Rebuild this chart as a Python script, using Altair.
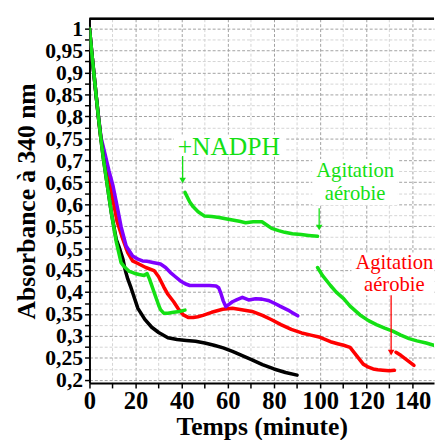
import altair as alt
import pandas as pd

# ---------------- data ----------------
black_t = [0, 1, 2, 3, 4, 5, 6, 7.4, 9.5, 11.6, 13, 14.5, 15.5, 16.6, 18, 21, 24, 27, 30, 34, 38, 42, 46, 50, 54, 58,
           62, 66, 70, 75, 80, 85, 90]
black_v = [1.0, 0.945, 0.893, 0.842, 0.793, 0.747, 0.705, 0.655, 0.58, 0.52, 0.5, 0.475, 0.45, 0.43, 0.41, 0.363,
           0.338, 0.32, 0.308, 0.296, 0.292, 0.29, 0.288, 0.284, 0.279, 0.273, 0.265, 0.256, 0.247, 0.235, 0.225,
           0.217, 0.211]

green1_t = [0, 1, 2, 3, 4, 5, 6, 7.4, 9.5, 11.6, 13.7, 15.2, 17.3, 19.4, 21.5, 23.7, 25, 26, 28, 30, 30.8, 32.2, 34,
            36.5, 39, 41.4]
green1_v = [1.0, 0.945, 0.893, 0.842, 0.793, 0.747, 0.705, 0.655, 0.58, 0.515, 0.467, 0.457, 0.447, 0.443, 0.44,
            0.438, 0.442, 0.43, 0.40, 0.37, 0.36, 0.352, 0.352, 0.354, 0.356, 0.359]
green2_t = [41.4, 43.5, 45, 47.1, 49.9, 53, 56.3, 59, 62, 65, 67.7, 71, 74.8, 77, 79, 82, 84.7, 88, 91.8, 95, 98.9]
green2_v = [0.627, 0.605, 0.594, 0.583, 0.573, 0.572, 0.570, 0.567, 0.564, 0.561, 0.558, 0.560, 0.560, 0.552, 0.545,
            0.540, 0.536, 0.533, 0.531, 0.529, 0.527]
green3_t = [98.9, 101, 104.5, 107, 110.2, 113, 117.3, 121, 124.4, 128, 131.5, 135, 138.6, 142, 146, 150]
green3_v = [0.456, 0.438, 0.415, 0.40, 0.385, 0.368, 0.348, 0.335, 0.326, 0.318, 0.311, 0.302, 0.294, 0.289, 0.284,
            0.278]

red1_t = [0, 1, 2, 3, 4, 5, 6.5, 8, 10, 12, 14.5, 16.6, 18.7, 21, 24.4, 28, 30, 32.2, 34, 36.5, 38.5, 40.7, 43, 45,
          47, 49.2, 53, 57.7, 62, 66, 70.5, 75, 79, 83, 87.5, 92, 96, 100, 104.5, 108, 110.2, 113, 115.9, 118.7, 121,
          123, 125, 127.2, 130, 132.2]
red1_v = [1.0, 0.945, 0.893, 0.842, 0.793, 0.748, 0.71, 0.67, 0.615, 0.56, 0.52, 0.49, 0.471, 0.465, 0.456, 0.449,
          0.435, 0.412, 0.395, 0.378, 0.362, 0.348, 0.342, 0.342, 0.344, 0.347, 0.354, 0.361, 0.363, 0.36, 0.356,
          0.347, 0.337, 0.326, 0.315, 0.307, 0.302, 0.297, 0.287, 0.282, 0.279, 0.274, 0.255, 0.236, 0.229, 0.225,
          0.223, 0.222, 0.221, 0.222]
red2_t = [132.9, 135, 137, 139, 140.7]
red2_v = [0.263, 0.256, 0.248, 0.24, 0.233]

purple_t = [0, 1, 2, 3, 4, 5, 6.7, 8.5, 10.2, 12, 13.7, 15.9, 18.7, 21, 23, 25, 28, 30.8, 33, 35, 37, 39.3, 41.5,
            43.5, 46, 49.2, 52, 54.9, 56, 57, 58, 59.1, 60.5, 62, 64, 66.3, 69, 72, 74.8, 77.5, 80.4, 83, 86.1, 88,
            90.3]
purple_v = [1.0, 0.945, 0.893, 0.842, 0.795, 0.752, 0.715, 0.675, 0.642, 0.595, 0.549, 0.505, 0.482, 0.475, 0.471,
            0.47, 0.467, 0.464, 0.456, 0.445, 0.436, 0.426, 0.419, 0.415, 0.415, 0.415, 0.415, 0.414, 0.41, 0.397,
            0.38, 0.367, 0.372, 0.378, 0.383, 0.388, 0.382, 0.385, 0.384, 0.381, 0.374, 0.367, 0.359, 0.353, 0.346]

# annotations (data coordinates)
ann_text = ["+NADPH", "Agitation", "aérobie", "Agitation", "aérobie"]
ann_t = [60.4, 115.2, 115.2, 132.2, 132.2]
ann_v = [0.713, 0.661, 0.609, 0.4525, 0.402]
ann_col = ["g", "g", "g", "r", "r"]
ann_size = [26, 21, 21, 21, 21]

box_t1 = [36.6, 96.6, 113.6]
box_t2 = [84.7, 133.6, 150]
box_v1 = [0.709, 0.598, 0.393]
box_v2 = [0.759, 0.703, 0.49]

arrow_t = [40.4, 99.6, 130.8]
arrow_v1 = [0.71, 0.591, 0.393]
arrow_v2 = [0.647, 0.54, 0.255]
arrow_col = ["g", "g", "r"]

x_tick_values = list(range(0, 150, 10))
y_tick_values = [round(0.2 + 0.025 * i, 3) for i in range(33)]

GREEN = "#14e014"
RED = "#ff0000"
PURPLE = "#7f00ff"
BLACK = "#000000"
FONT = "Liberation Serif"

W, H = 351, 371
XDOM = [0, 149.4]
YDOM = [0.193, 1.022]

xs = alt.Scale(domain=XDOM, nice=False, zero=False)
ys = alt.Scale(domain=YDOM, nice=False, zero=False)

y_major = "abs(datum.value*20 - round(datum.value*20)) < 0.001"

x_axis = alt.Axis(
    values=x_tick_values,
    labelExpr="datum.value % 20 == 0 ? format(datum.value, 'd') : ''",
    labelOverlap=False, labelFlush=False,
    grid=True, gridDash=[3, 2], gridWidth=1,
    gridColor={"condition": {"test": "datum.value % 20 == 0", "value": "#a0a0a0"}, "value": "#d4d4d4"},
    tickSize=5, tickColor="black", tickWidth=1.5,
    domainColor="black", domainWidth=2,
    labelFont=FONT, labelFontSize=25, labelFontWeight="bold", labelColor="black", labelPadding=1,
    title="Temps (minute)", titleFont=FONT, titleFontSize=26, titleFontWeight="bold", titleColor="black",
    titlePadding=0,
)
y_axis = alt.Axis(
    values=y_tick_values,
    labelExpr=y_major + " ? replace(format(datum.value, '.2~f'), '.', ',') : ''",
    labelOverlap=False, labelFlush=False,
    grid=True, gridDash=[3, 2], gridWidth=1,
    gridColor={"condition": {"test": y_major, "value": "#a0a0a0"}, "value": "#d4d4d4"},
    tickSize=5, tickColor="black", tickWidth=1.5,
    domainColor="black", domainWidth=2,
    labelFont=FONT, labelFontSize=22, labelFontWeight="bold", labelColor="black", labelPadding=2,
    title="Absorbance à 340 nm", titleFont=FONT, titleFontSize=26, titleFontWeight="bold", titleColor="black",
    titlePadding=5,
)

XN = dict(scale=xs, axis=x_axis)
YN = dict(scale=ys, axis=y_axis)


def seg(ts, vs):
    return pd.DataFrame({"t": ts, "v": vs})


# white boxes behind the labels
boxes = pd.DataFrame({"t1": box_t1, "t2": box_t2, "v1": box_v1, "v2": box_v2})
base = alt.Chart(boxes).mark_rect(color="white", clip=True).encode(
    x=alt.X("t1:Q", **XN),
    x2="t2:Q",
    y=alt.Y("v1:Q", **YN),
    y2="v2:Q",
)


def line(df, color):
    return alt.Chart(df).mark_line(color=color, strokeWidth=3.6, strokeJoin="round", strokeCap="round",
                                   clip=True).encode(
        x=alt.X("t:Q", **XN), y=alt.Y("v:Q", **YN))


lines = [
    line(seg(red1_t, red1_v), RED),
    line(seg(red2_t, red2_v), RED),
    line(seg(purple_t, purple_v), PURPLE),
    line(seg(black_t, black_v), BLACK),
    line(seg(green1_t, green1_v), GREEN),
    line(seg(green2_t, green2_v), GREEN),
    line(seg(green3_t, green3_v), GREEN),
]

cscale = alt.Scale(domain=["g", "r"], range=[GREEN, RED])

ann = pd.DataFrame({"txt": ann_text, "t": ann_t, "v": ann_v, "c": ann_col, "s": ann_size})
texts = alt.Chart(ann).mark_text(font=FONT, align="center", baseline="alphabetic").encode(
    x=alt.X("t:Q", **XN), y=alt.Y("v:Q", **YN), text="txt:N",
    color=alt.Color("c:N", scale=cscale, legend=None),
    size=alt.Size("s:Q", scale=None, legend=None),
)

arr = pd.DataFrame({"t": arrow_t, "v1": arrow_v1, "v2": arrow_v2, "c": arrow_col})
arr["vh"] = arr["v2"] + 0.007
shafts = alt.Chart(arr).mark_rule(strokeWidth=1.3).encode(
    x=alt.X("t:Q", **XN), y=alt.Y("v1:Q", **YN), y2="vh:Q",
    color=alt.Color("c:N", scale=cscale, legend=None),
)
heads = alt.Chart(arr).mark_point(shape="triangle-down", filled=True, size=45, opacity=1).encode(
    x=alt.X("t:Q", **XN), y=alt.Y("vh:Q", **YN),
    color=alt.Color("c:N", scale=cscale, legend=None),
)

top_border = alt.Chart(boxes).mark_rule(color="black", strokeWidth=2).encode(
    x=alt.value(0), x2=alt.value(W), y=alt.value(0))

chart = alt.layer(base, *lines, shafts, heads, texts, top_border).properties(
    width=W, height=H,
    autosize=alt.AutoSizeParams(type="none"),
    padding={"left": 83, "top": 7, "right": 1, "bottom": 54},
).configure(
    background="white",
    font=FONT,
    view=alt.ViewConfig(stroke=None),
    axis=alt.AxisConfig(labelFont=FONT, titleFont=FONT),
)

chart.save("out.html", embed_options={"renderer": "svg", "actions": False})
